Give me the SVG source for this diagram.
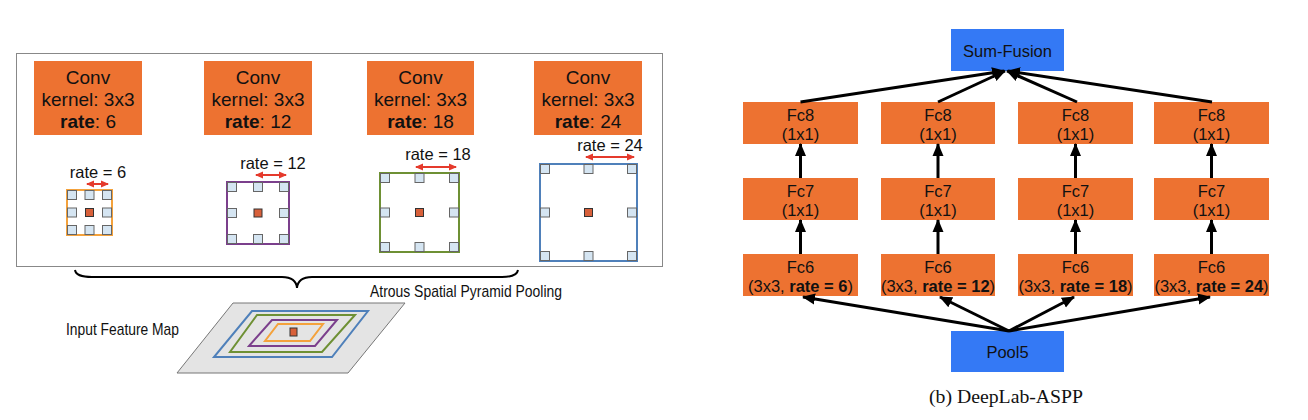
<svg xmlns="http://www.w3.org/2000/svg" width="1308" height="420" viewBox="0 0 1308 420">
<style>
.t{font-family:"Liberation Sans",Arial,sans-serif;fill:#111;text-anchor:middle}
.conv{font-size:19px}
.lbl{font-size:16.5px}
.ob{fill:#ed7231}
.bb{fill:#3479f5}
.sq{fill:#d5e5f2;stroke:#666;stroke-width:1}
.cs{fill:#d8603a;stroke:#333;stroke-width:1}
.k{fill:none;stroke-width:2}
.ra{stroke:#e53a2c;stroke-width:2;fill:none;marker-start:url(#rh);marker-end:url(#rh)}
.ar{stroke:#000;stroke-width:3;fill:none;marker-end:url(#ah)}
</style>
<defs>
<marker id="ah" markerUnits="userSpaceOnUse" markerWidth="13" markerHeight="12" viewBox="0 0 13 12" refX="12" refY="6" orient="auto"><path d="M0,0.5 L13,6 L0,11.5 z" fill="#000"/></marker>
<marker id="rh" markerUnits="userSpaceOnUse" markerWidth="8" markerHeight="8" viewBox="0 0 8 8" refX="7" refY="4" orient="auto-start-reverse"><path d="M0,0.5 L8,4 L0,7.5 z" fill="#e53a2c"/></marker>
</defs>
<rect width="1308" height="420" fill="#fff"/>

<g id="aspp-panel">
<rect x="16.5" y="53.5" width="646" height="213" fill="none" stroke="#888" stroke-width="1"/>
</g>

<g id="conv1"><rect class="ob" x="34" y="61" width="108" height="74"/>
<text class="t conv" x="88" y="84">Conv</text><text class="t conv" x="88" y="106">kernel: 3x3</text><text class="t conv" x="88" y="128"><tspan font-weight="bold">rate</tspan>: 6</text></g>
<g id="conv2"><rect class="ob" x="204" y="61" width="108" height="74"/>
<text class="t conv" x="258" y="84">Conv</text><text class="t conv" x="258" y="106">kernel: 3x3</text><text class="t conv" x="258" y="128"><tspan font-weight="bold">rate</tspan>: 12</text></g>
<g id="conv3"><rect class="ob" x="367" y="61" width="107" height="74"/>
<text class="t conv" x="420.5" y="84">Conv</text><text class="t conv" x="420.5" y="106">kernel: 3x3</text><text class="t conv" x="420.5" y="128"><tspan font-weight="bold">rate</tspan>: 18</text></g>
<g id="conv4"><rect class="ob" x="534" y="61" width="108" height="74"/>
<text class="t conv" x="588" y="84">Conv</text><text class="t conv" x="588" y="106">kernel: 3x3</text><text class="t conv" x="588" y="128"><tspan font-weight="bold">rate</tspan>: 24</text></g>

<g id="kernel1">
<rect class="k" x="67" y="190" width="45" height="45" stroke="#f4a23c"/>
<rect class="sq" x="67.5" y="190.5" width="9" height="9"/><rect class="sq" x="85" y="190.5" width="9" height="9"/><rect class="sq" x="102.5" y="190.5" width="9" height="9"/>
<rect class="sq" x="67.5" y="208" width="9" height="9"/><rect class="cs" x="85.5" y="208.5" width="8" height="8"/><rect class="sq" x="102.5" y="208" width="9" height="9"/>
<rect class="sq" x="67.5" y="225.5" width="9" height="9"/><rect class="sq" x="85" y="225.5" width="9" height="9"/><rect class="sq" x="102.5" y="225.5" width="9" height="9"/>
<text class="t lbl" x="98" y="178">rate = 6</text>
<line class="ra" x1="87" y1="184" x2="108" y2="184"/>
</g>
<g id="kernel2">
<rect class="k" x="227" y="182" width="62" height="62" stroke="#7b3f8c"/>
<rect class="sq" x="227.5" y="182.5" width="9" height="9"/><rect class="sq" x="253.5" y="182.5" width="9" height="9"/><rect class="sq" x="279.5" y="182.5" width="9" height="9"/>
<rect class="sq" x="227.5" y="208.5" width="9" height="9"/><rect class="cs" x="254" y="209" width="8" height="8"/><rect class="sq" x="279.5" y="208.5" width="9" height="9"/>
<rect class="sq" x="227.5" y="234.5" width="9" height="9"/><rect class="sq" x="253.5" y="234.5" width="9" height="9"/><rect class="sq" x="279.5" y="234.5" width="9" height="9"/>
<text class="t lbl" x="273" y="169">rate = 12</text>
<line class="ra" x1="256" y1="175" x2="286" y2="175"/>
</g>
<g id="kernel3">
<rect class="k" x="380" y="173" width="79" height="79" stroke="#6e9034"/>
<rect class="sq" x="380.5" y="173.5" width="9" height="9"/><rect class="sq" x="415" y="173.5" width="9" height="9"/><rect class="sq" x="449.5" y="173.5" width="9" height="9"/>
<rect class="sq" x="380.5" y="208" width="9" height="9"/><rect class="cs" x="415.5" y="208.5" width="8" height="8"/><rect class="sq" x="449.5" y="208" width="9" height="9"/>
<rect class="sq" x="380.5" y="242.5" width="9" height="9"/><rect class="sq" x="415" y="242.5" width="9" height="9"/><rect class="sq" x="449.5" y="242.5" width="9" height="9"/>
<text class="t lbl" x="438" y="160">rate = 18</text>
<line class="ra" x1="416" y1="167" x2="456" y2="167"/>
</g>
<g id="kernel4">
<rect class="k" x="540" y="164" width="97" height="97" stroke="#4f80ba"/>
<rect class="sq" x="540.5" y="164.5" width="9" height="9"/><rect class="sq" x="584" y="164.5" width="9" height="9"/><rect class="sq" x="627.5" y="164.5" width="9" height="9"/>
<rect class="sq" x="540.5" y="208" width="9" height="9"/><rect class="cs" x="584.5" y="208.5" width="8" height="8"/><rect class="sq" x="627.5" y="208" width="9" height="9"/>
<rect class="sq" x="540.5" y="251.5" width="9" height="9"/><rect class="sq" x="584" y="251.5" width="9" height="9"/><rect class="sq" x="627.5" y="251.5" width="9" height="9"/>
<text class="t lbl" x="610" y="151">rate = 24</text>
<line class="ra" x1="586" y1="157" x2="634" y2="157"/>
</g>

<g id="brace">
<path d="M75,270 Q76,277 92,277 L282,277 Q296,277 297,288 Q298,277 312,277 L502,277 Q517,277 518,270" fill="none" stroke="#000" stroke-width="2"/>
<text class="t" font-size="17" x="466" y="297" textLength="192" lengthAdjust="spacingAndGlyphs">Atrous Spatial Pyramid Pooling</text>
</g>

<g id="input-feature-map">
<text class="t" font-size="17" x="122.5" y="335" textLength="113" lengthAdjust="spacingAndGlyphs">Input Feature Map</text>
<polygon points="233,303 405,303 348,373 177,373" fill="#e4e4e4" stroke="#777" stroke-width="1"/>
<polygon points="252,311 368,311 332,357 214,357" fill="none" stroke="#4f80ba" stroke-width="2"/>
<polygon points="257,315 355,315 322,352 230,352" fill="none" stroke="#6e9034" stroke-width="2"/>
<polygon points="272,320 337,320 315,346 249,346" fill="none" stroke="#7b3f8c" stroke-width="2"/>
<polygon points="278,324 323,324 310,341 265,341" fill="none" stroke="#f4a23c" stroke-width="2"/>
<rect class="cs" x="290" y="328" width="7" height="8"/>
</g>

<g id="sum-fusion"><rect class="bb" x="951" y="29" width="113" height="42"/><text class="t lbl" x="1007.5" y="57">Sum-Fusion</text></g>
<g id="pool5"><rect class="bb" x="951" y="331" width="113" height="41"/><text class="t lbl" x="1007.5" y="358">Pool5</text></g>

<g id="fc8-1"><rect class="ob" x="743" y="102" width="115" height="42"/><text class="t lbl" x="800.5" y="121">Fc8</text><text class="t lbl" x="800.5" y="140">(1x1)</text></g>
<g id="fc8-2"><rect class="ob" x="881" y="102" width="114" height="42"/><text class="t lbl" x="938" y="121">Fc8</text><text class="t lbl" x="938" y="140">(1x1)</text></g>
<g id="fc8-3"><rect class="ob" x="1018" y="102" width="115" height="42"/><text class="t lbl" x="1075.5" y="121">Fc8</text><text class="t lbl" x="1075.5" y="140">(1x1)</text></g>
<g id="fc8-4"><rect class="ob" x="1154" y="102" width="115" height="42"/><text class="t lbl" x="1211.5" y="121">Fc8</text><text class="t lbl" x="1211.5" y="140">(1x1)</text></g>

<g id="fc7-1"><rect class="ob" x="743" y="178" width="115" height="42"/><text class="t lbl" x="800.5" y="197">Fc7</text><text class="t lbl" x="800.5" y="216">(1x1)</text></g>
<g id="fc7-2"><rect class="ob" x="881" y="178" width="114" height="42"/><text class="t lbl" x="938" y="197">Fc7</text><text class="t lbl" x="938" y="216">(1x1)</text></g>
<g id="fc7-3"><rect class="ob" x="1018" y="178" width="115" height="42"/><text class="t lbl" x="1075.5" y="197">Fc7</text><text class="t lbl" x="1075.5" y="216">(1x1)</text></g>
<g id="fc7-4"><rect class="ob" x="1154" y="178" width="115" height="42"/><text class="t lbl" x="1211.5" y="197">Fc7</text><text class="t lbl" x="1211.5" y="216">(1x1)</text></g>

<g id="fc6-1"><rect class="ob" x="743" y="254" width="115" height="42"/><text class="t lbl" x="800.5" y="273">Fc6</text><text class="t lbl" x="800.5" y="292">(3x3, <tspan font-weight="bold">rate = 6</tspan>)</text></g>
<g id="fc6-2"><rect class="ob" x="881" y="254" width="114" height="42"/><text class="t lbl" x="938" y="273">Fc6</text><text class="t lbl" x="938" y="292">(3x3, <tspan font-weight="bold">rate = 12</tspan>)</text></g>
<g id="fc6-3"><rect class="ob" x="1018" y="254" width="115" height="42"/><text class="t lbl" x="1075.5" y="273">Fc6</text><text class="t lbl" x="1075.5" y="292">(3x3, <tspan font-weight="bold">rate = 18</tspan>)</text></g>
<g id="fc6-4"><rect class="ob" x="1154" y="254" width="115" height="42"/><text class="t lbl" x="1211.5" y="273">Fc6</text><text class="t lbl" x="1211.5" y="292">(3x3, <tspan font-weight="bold">rate = 24</tspan>)</text></g>

<g id="connectors">
<line class="ar" x1="800.5" y1="254" x2="800.5" y2="220"/>
<line class="ar" x1="938" y1="254" x2="938" y2="220"/>
<line class="ar" x1="1075.5" y1="254" x2="1075.5" y2="220"/>
<line class="ar" x1="1211.5" y1="254" x2="1211.5" y2="220"/>
<line class="ar" x1="800.5" y1="178" x2="800.5" y2="144"/>
<line class="ar" x1="938" y1="178" x2="938" y2="144"/>
<line class="ar" x1="1075.5" y1="178" x2="1075.5" y2="144"/>
<line class="ar" x1="1211.5" y1="178" x2="1211.5" y2="144"/>
<line class="ar" x1="800.5" y1="102" x2="1004" y2="71"/>
<line class="ar" x1="938" y1="102" x2="1005" y2="71"/>
<line class="ar" x1="1077" y1="102" x2="1007" y2="71"/>
<line class="ar" x1="1212" y1="102" x2="1008" y2="71"/>
<line class="ar" x1="1009" y1="331" x2="803" y2="297"/>
<line class="ar" x1="1009" y1="331" x2="940" y2="297"/>
<line class="ar" x1="1009" y1="331" x2="1074" y2="297"/>
<line class="ar" x1="1009" y1="331" x2="1210" y2="297"/>
</g>

<text x="1006" y="403" font-family="'Liberation Serif','Times New Roman',serif" font-size="19" fill="#111" text-anchor="middle" textLength="154" lengthAdjust="spacingAndGlyphs">(b) DeepLab-ASPP</text>
</svg>
